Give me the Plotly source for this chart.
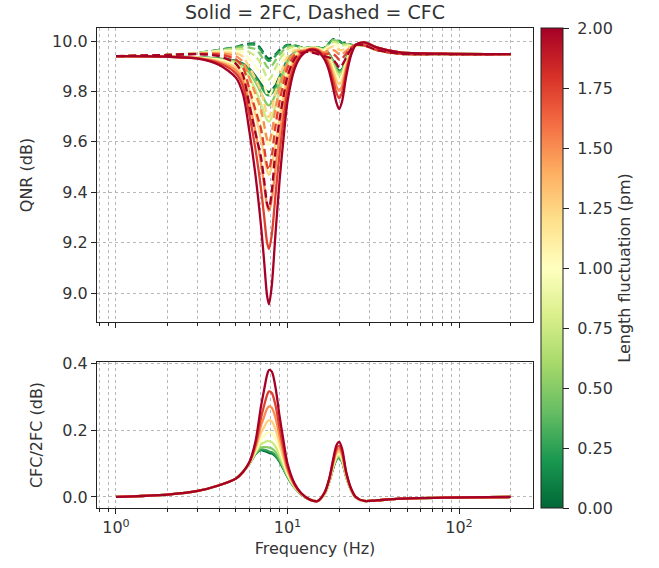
import math
import plotly.graph_objects as go
from plotly.colors import sample_colorscale

# ---------------- data ----------------
freq_hz = [1, 2, 3, 4, 5, 5.5, 6, 6.5, 7, 7.3, 7.6, 7.8, 8.1, 8.5, 9, 9.5, 10, 11, 12, 13.5,
           15, 16.5, 17.5, 18.5, 19.3, 20, 20.8, 22, 23.5, 25, 28, 33, 45, 80, 200]

length_fluct_pm = [0.0, 0.25, 0.5, 0.75, 1.0, 1.25, 1.5, 1.75, 2.0]
colorbar_ticks = [0.0, 0.25, 0.5, 0.75, 1.0, 1.25, 1.5, 1.75, 2.0]

# QNR (dB) of the 2FC scheme (solid lines), one list per length fluctuation
qnr_2fc_000 = [9.940, 9.938, 9.935, 9.930, 9.922, 9.910, 9.890, 9.862, 9.830, 9.812, 9.800, 9.798, 9.805, 9.825, 9.860, 9.895, 9.925, 9.955, 9.968, 9.975, 9.975, 9.965, 9.948, 9.920, 9.893, 9.883, 9.888, 9.932, 9.965, 9.985, 9.995, 9.975, 9.955, 9.950, 9.948]
qnr_2fc_025 = [9.940, 9.938, 9.935, 9.930, 9.921, 9.908, 9.886, 9.856, 9.821, 9.801, 9.787, 9.785, 9.793, 9.816, 9.853, 9.891, 9.922, 9.954, 9.968, 9.975, 9.975, 9.964, 9.947, 9.918, 9.891, 9.880, 9.886, 9.931, 9.965, 9.985, 9.995, 9.975, 9.955, 9.950, 9.948]
qnr_2fc_050 = [9.940, 9.938, 9.935, 9.928, 9.918, 9.903, 9.874, 9.838, 9.795, 9.769, 9.749, 9.745, 9.757, 9.788, 9.834, 9.878, 9.915, 9.951, 9.966, 9.974, 9.974, 9.962, 9.944, 9.914, 9.886, 9.875, 9.881, 9.927, 9.964, 9.985, 9.995, 9.975, 9.955, 9.950, 9.948]
qnr_2fc_075 = [9.940, 9.938, 9.934, 9.927, 9.913, 9.893, 9.855, 9.807, 9.752, 9.717, 9.687, 9.680, 9.697, 9.742, 9.803, 9.857, 9.902, 9.946, 9.964, 9.974, 9.973, 9.959, 9.938, 9.905, 9.876, 9.864, 9.872, 9.922, 9.962, 9.985, 9.995, 9.975, 9.955, 9.950, 9.948]
qnr_2fc_100 = [9.940, 9.938, 9.934, 9.924, 9.905, 9.880, 9.828, 9.764, 9.690, 9.642, 9.598, 9.587, 9.611, 9.676, 9.758, 9.826, 9.884, 9.939, 9.961, 9.973, 9.971, 9.955, 9.932, 9.893, 9.862, 9.848, 9.859, 9.914, 9.960, 9.985, 9.995, 9.975, 9.955, 9.950, 9.948]
qnr_2fc_125 = [9.940, 9.938, 9.933, 9.920, 9.896, 9.863, 9.793, 9.709, 9.612, 9.546, 9.484, 9.469, 9.503, 9.593, 9.700, 9.788, 9.861, 9.930, 9.957, 9.971, 9.969, 9.949, 9.923, 9.880, 9.845, 9.829, 9.843, 9.906, 9.957, 9.985, 9.995, 9.975, 9.955, 9.950, 9.948]
qnr_2fc_150 = [9.940, 9.938, 9.932, 9.916, 9.885, 9.843, 9.750, 9.642, 9.516, 9.430, 9.346, 9.326, 9.371, 9.492, 9.630, 9.741, 9.833, 9.919, 9.952, 9.969, 9.967, 9.943, 9.911, 9.861, 9.821, 9.803, 9.822, 9.893, 9.954, 9.985, 9.995, 9.975, 9.955, 9.950, 9.948]
qnr_2fc_175 = [9.940, 9.938, 9.931, 9.912, 9.872, 9.821, 9.705, 9.572, 9.416, 9.307, 9.201, 9.174, 9.232, 9.385, 9.557, 9.692, 9.803, 9.907, 9.947, 9.968, 9.964, 9.935, 9.898, 9.840, 9.794, 9.773, 9.796, 9.880, 9.950, 9.985, 9.995, 9.975, 9.955, 9.950, 9.948]
qnr_2fc_200 = [9.940, 9.938, 9.930, 9.905, 9.855, 9.790, 9.640, 9.470, 9.270, 9.130, 8.990, 8.955, 9.030, 9.230, 9.450, 9.620, 9.760, 9.890, 9.940, 9.965, 9.960, 9.925, 9.880, 9.810, 9.755, 9.730, 9.760, 9.860, 9.945, 9.985, 9.995, 9.975, 9.955, 9.950, 9.948]

# CFC / 2FC ratio (dB), bottom panel
ratio_000 = [0.0, 0.007, 0.018, 0.035, 0.055, 0.075, 0.100, 0.128, 0.140, 0.138, 0.135, 0.132, 0.130, 0.122, 0.105, 0.082, 0.060, 0.028, 0.008, -0.008, -0.012, 0.010, 0.045, 0.088, 0.112, 0.118, 0.105, 0.060, 0.020, -0.002, -0.012, -0.010, -0.005, -0.002, 0.0]
ratio_025 = [0.0, 0.007, 0.018, 0.035, 0.055, 0.075, 0.100, 0.129, 0.142, 0.141, 0.139, 0.136, 0.134, 0.125, 0.107, 0.083, 0.061, 0.028, 0.008, -0.008, -0.012, 0.010, 0.045, 0.088, 0.113, 0.119, 0.106, 0.060, 0.020, -0.002, -0.012, -0.010, -0.005, -0.002, 0.0]
ratio_050 = [0.0, 0.007, 0.018, 0.035, 0.055, 0.075, 0.100, 0.130, 0.148, 0.149, 0.149, 0.148, 0.145, 0.135, 0.113, 0.087, 0.062, 0.029, 0.008, -0.008, -0.012, 0.010, 0.046, 0.090, 0.115, 0.121, 0.108, 0.061, 0.020, -0.002, -0.012, -0.010, -0.005, -0.002, 0.0]
ratio_075 = [0.0, 0.007, 0.018, 0.035, 0.055, 0.075, 0.101, 0.133, 0.158, 0.163, 0.167, 0.167, 0.164, 0.151, 0.124, 0.094, 0.066, 0.030, 0.009, -0.008, -0.012, 0.011, 0.046, 0.092, 0.118, 0.125, 0.111, 0.062, 0.021, -0.002, -0.012, -0.010, -0.005, -0.002, 0.0]
ratio_100 = [0.0, 0.007, 0.018, 0.035, 0.055, 0.075, 0.101, 0.137, 0.172, 0.183, 0.192, 0.194, 0.191, 0.174, 0.139, 0.103, 0.070, 0.031, 0.009, -0.008, -0.012, 0.011, 0.047, 0.095, 0.123, 0.130, 0.115, 0.064, 0.021, -0.002, -0.012, -0.010, -0.005, -0.002, 0.0]
ratio_125 = [0.0, 0.007, 0.018, 0.035, 0.055, 0.075, 0.102, 0.142, 0.191, 0.209, 0.225, 0.229, 0.226, 0.203, 0.158, 0.114, 0.076, 0.033, 0.010, -0.008, -0.012, 0.012, 0.049, 0.099, 0.129, 0.136, 0.121, 0.066, 0.022, -0.001, -0.012, -0.010, -0.005, -0.002, 0.0]
ratio_150 = [0.0, 0.007, 0.018, 0.035, 0.055, 0.075, 0.103, 0.149, 0.213, 0.240, 0.264, 0.271, 0.267, 0.238, 0.181, 0.128, 0.082, 0.035, 0.010, -0.008, -0.012, 0.013, 0.051, 0.103, 0.136, 0.144, 0.127, 0.068, 0.023, -0.001, -0.012, -0.010, -0.005, -0.002, 0.0]
ratio_175 = [0.0, 0.007, 0.018, 0.035, 0.055, 0.075, 0.104, 0.155, 0.236, 0.273, 0.305, 0.316, 0.311, 0.276, 0.205, 0.143, 0.090, 0.037, 0.011, -0.008, -0.012, 0.014, 0.052, 0.108, 0.144, 0.153, 0.135, 0.071, 0.024, 0.000, -0.012, -0.010, -0.005, -0.002, 0.0]
ratio_200 = [0.0, 0.007, 0.018, 0.035, 0.055, 0.075, 0.105, 0.165, 0.270, 0.320, 0.365, 0.380, 0.375, 0.330, 0.240, 0.165, 0.100, 0.040, 0.012, -0.008, -0.012, 0.015, 0.055, 0.115, 0.155, 0.165, 0.145, 0.075, 0.025, 0.000, -0.012, -0.010, -0.005, -0.002, 0.0]

qnr_2fc = [qnr_2fc_000, qnr_2fc_025, qnr_2fc_050, qnr_2fc_075, qnr_2fc_100,
           qnr_2fc_125, qnr_2fc_150, qnr_2fc_175, qnr_2fc_200]
ratio_db = [ratio_000, ratio_025, ratio_050, ratio_075, ratio_100,
            ratio_125, ratio_150, ratio_175, ratio_200]
# CFC QNR = 2FC QNR + (CFC/2FC in dB)
qnr_cfc = [[s + r for s, r in zip(sv, rv)] for sv, rv in zip(qnr_2fc, ratio_db)]

x_major = [1, 10, 100]
x_major_text = ["10<sup>0</sup>", "10<sup>1</sup>", "10<sup>2</sup>"]
x_minor = [0.8, 0.9] + [m * 10 ** d for d in range(0, 2) for m in range(2, 10)] + [200]

# ---------------- style ----------------
rdylgn_r = ["#006837", "#1a9850", "#66bd63", "#a6d96a", "#d9ef8b", "#ffffbf",
            "#fee08b", "#fdae61", "#f46d43", "#d73027", "#a50026"]
colorscale = [[i / 10, c] for i, c in enumerate(rdylgn_r)]
cmin, cmax = 0.0, 2.0
line_colors = sample_colorscale(colorscale, [(v - cmin) / (cmax - cmin) for v in length_fluct_pm])

FONT = "DejaVu Sans"
TXT = "#333333"

fig = go.Figure()
for L, col, s, c in zip(length_fluct_pm, line_colors, qnr_2fc, qnr_cfc):
    fig.add_trace(go.Scatter(x=freq_hz, y=s, mode="lines", xaxis="x", yaxis="y",
                             line=dict(color=col, width=2.3, shape="spline", smoothing=0.8),
                             hoverinfo="skip", showlegend=False))
    fig.add_trace(go.Scatter(x=freq_hz, y=c, mode="lines", xaxis="x", yaxis="y",
                             line=dict(color=col, width=2.3, dash="8px,4px", shape="spline", smoothing=0.8),
                             hoverinfo="skip", showlegend=False))
for L, col, r in zip(length_fluct_pm, line_colors, ratio_db):
    fig.add_trace(go.Scatter(x=freq_hz, y=r, mode="lines", xaxis="x2", yaxis="y2",
                             line=dict(color=col, width=2.3, shape="spline", smoothing=0.8),
                             hoverinfo="skip", showlegend=False))

# colour bar carrier
fig.add_trace(go.Scatter(
    x=[10, 10], y=[9.9, 9.9], mode="markers", xaxis="x", yaxis="y", hoverinfo="skip",
    showlegend=False,
    marker=dict(size=1, opacity=0, color=[cmin, cmax], colorscale=colorscale, cmin=cmin, cmax=cmax,
                showscale=True,
                colorbar=dict(
                    x=(541 - 97) / 436, xanchor="left", xref="paper", xpad=0,
                    y=0.5, yanchor="middle", len=1.0, lenmode="fraction", ypad=0,
                    thickness=22, thicknessmode="pixels",
                    outlinewidth=1, outlinecolor="#222",
                    ticks="outside", ticklen=6, tickwidth=1.2, tickcolor="#222",
                    tickmode="array", tickvals=colorbar_ticks,
                    ticktext=["\u00a0" + f"{v:.2f}" for v in colorbar_ticks],
                    tickfont=dict(family=FONT, size=16, color=TXT),
                    title=dict(text="Length fluctuation (pm)", side="right",
                               font=dict(family=FONT, size=16, color=TXT)),
                ))))

grid = dict(showgrid=True, gridcolor="#b8b8b8", griddash="dot", gridwidth=1)
axis_base = dict(showline=True, linecolor="#222", linewidth=1.2, mirror=True,
                 ticks="outside", ticklen=5, tickwidth=1.2, tickcolor="#222",
                 zeroline=False, tickfont=dict(family=FONT, size=16, color=TXT), **grid)
xrange = [math.log10(0.775), math.log10(270)]
minor = dict(tickmode="array", tickvals=x_minor, ticks="outside", ticklen=3,
             tickwidth=1, tickcolor="#222", **grid)

fig.update_layout(
    width=659, height=568,
    margin=dict(l=97, r=126, t=28, b=60),
    paper_bgcolor="white", plot_bgcolor="white",
    font=dict(family=FONT, size=16, color=TXT),
    title=dict(text="Solid = 2FC, Dashed = CFC", x=0.5, xref="paper", xanchor="center",
               y=1 - 12 / 568, yref="container", yanchor="middle",
               font=dict(family=FONT, size=19, color=TXT)),
    xaxis=dict(type="log", range=xrange, anchor="y", matches="x2",
               tickmode="array", tickvals=x_major, ticktext=x_major_text, showticklabels=False,
               minor=minor, **axis_base),
    xaxis2=dict(type="log", range=xrange, anchor="y2",
                tickmode="array", tickvals=x_major, ticktext=x_major_text,
                minor=minor,
                title=dict(text="Frequency (Hz)", font=dict(family=FONT, size=16, color=TXT), standoff=6),
                **axis_base),
    yaxis=dict(domain=[(508 - 322) / 480, 1.0], range=[8.885, 10.052], anchor="x",
               tickmode="linear", tick0=9.0, dtick=0.2, tickformat=".1f",
               title=dict(text="QNR (dB)", font=dict(family=FONT, size=16, color=TXT)),
               **axis_base),
    yaxis2=dict(domain=[0.0, (508 - 362) / 480], range=[-0.033, 0.404], anchor="x2",
                tickmode="linear", tick0=0.0, dtick=0.2, tickformat=".1f",
                title=dict(text="CFC/2FC (dB)", font=dict(family=FONT, size=16, color=TXT)),
                **axis_base),
)

fig.write_html("out.html")
